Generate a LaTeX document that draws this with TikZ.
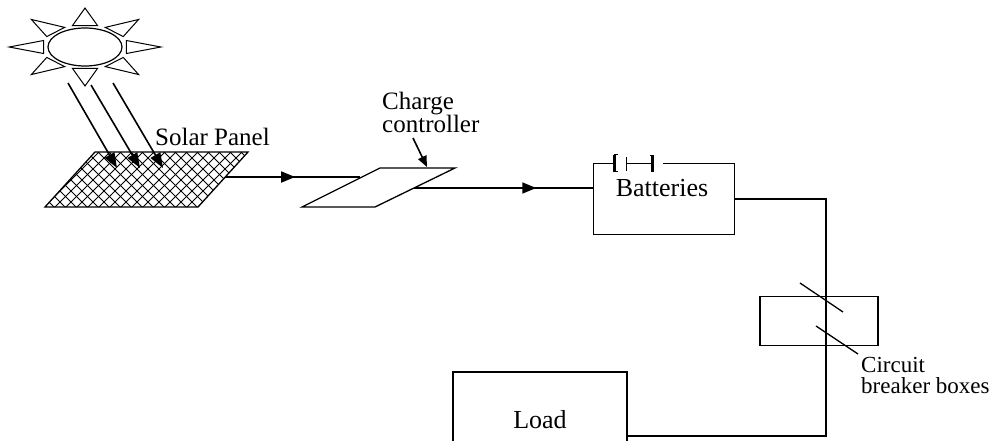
\documentclass[tikz,border=0pt]{standalone}
\usepackage{fontspec}
\setmainfont{Liberation Serif}
\usetikzlibrary{arrows.meta}
\usetikzlibrary{calc}
\usetikzlibrary{positioning}
\usetikzlibrary{decorations.markings}

\begin{document}
\begin{tikzpicture}[
    x=1pt, y=-1pt,
    % styles
    wire/.style={line width=1.3pt, black},
    ray/.style={line width=1.6pt, -{Triangle[length=15pt, width=11pt]}},
    pointer/.style={line width=1.6pt, -{Triangle[length=11pt, width=9pt]}},
    flowarrow/.style={line width=1.6pt, postaction={decorate},
      decoration={markings,
        mark=at position #1 with {\arrow{Triangle[length=14pt, width=11pt]}}}},
    tag/.style={font=\fontsize{25}{23}\selectfont, inner sep=0pt, align=left},
    title/.style={font=\fontsize{26}{28}\selectfont, inner sep=0pt},
    plate/.style={line width=2.8pt}]

    \useasboundingbox (0,0) rectangle (992,440);
    \clip (0,0) rectangle (992,440);

    % sun
    \coordinate (sun) at (85,47);
    \begin{scope}[shift={(sun)}, xscale=37, yscale=19]
      \foreach \a in {0,45,...,315}
        \draw[line width=1pt, fill=white]
        ({\a-17}:1.17) -- (\a:2.05) -- ({\a+17}:1.17) -- cycle;
      \draw[line width=1.2pt] (0,0) circle (1);
    \end{scope}

    % solar panel
    \coordinate (panel sw) at (45,207);
    \coordinate (panel se) at (198,207);
    \coordinate (panel ne) at (248,152);
    \coordinate (panel nw) at (95,152);
    \begin{scope}
      \clip (panel sw) -- (panel se) -- (panel ne) -- (panel nw) -- cycle;
      \foreach \i in {34,45,...,340} {
        \draw[line width=0.8pt] (\i,140) -- ++(-80,80);
        \draw[line width=0.8pt] (\i-80,140) -- ++(80,80);
      }
    \end{scope}
    \draw[wire] (panel sw) -- (panel se) -- (panel ne) -- (panel nw) -- cycle;
    \node[tag, anchor=base west] (panel label) at (155,145) {Solar Panel};

    % sun rays
    \foreach \sx/\sy/\ex/\ey in {68/83/117/168, 91/85/140/168, 113/83/163/168}
      \draw[ray] (\sx,\sy) -- (\ex,\ey);

    % charge controller
    \coordinate (cc sw) at (302,207);
    \coordinate (cc se) at (375,207);
    \coordinate (cc ne) at (455,168);
    \coordinate (cc nw) at (380,168);
    \draw[wire] (cc sw) -- (cc se) -- (cc ne) -- (cc nw) -- cycle;
    \node[tag, anchor=north west] (cc label) at (382,92) {Charge\\controller};
    \coordinate (cc top) at (427,167);
    \draw[pointer] ($(cc label.south west)+(31,5)$) -- (cc top);

    % batteries
    \node[minimum width=140pt, minimum height=70pt, inner sep=0pt] (bat) at (664,199) {};
    \node[title] (bat label) at (662,188) {Batteries};
    \draw[wire] ($(bat.north west)+(20,0)$) -- (bat.north west)
    -- (bat.south west) -- (bat.south east) -- (bat.north east)
    -- ($(bat.north east)+(-71,0)$);
    \draw[plate] ($(bat.north west)+(21,-9)$) -- ++(0,17);
    \draw[wire] ($(bat.north west)+(20,-9)$) -- ++(4,0);
    \draw[wire] ($(bat.north west)+(20,8)$) -- ++(4,0);
    \draw[wire] ($(bat.north west)+(33,-7)$) -- ++(0,14);
    \draw[wire] ($(bat.north west)+(33,0)$) -- ++(26,0);
    \draw[plate] ($(bat.north west)+(59,-8)$) -- ++(0,16);
    \draw[wire] ($(bat.north west)+(60,-8)$) -- ++(-4,0);

    % circuit breaker
    \node[draw, line width=1.3pt, minimum width=118pt, minimum height=49pt,
      inner sep=0pt] (cb) at (819,321) {};
    \draw[wire] (800,283) -- (843,312);
    \draw[wire] (816,326) -- (858,354);
    \node[tag, font=\fontsize{23}{21}\selectfont, anchor=north west]
    (cb label) at (861,357) {Circuit\\breaker boxes};

    % load
    \node[draw, line width=1.3pt, minimum width=174pt, minimum height=116pt,
      inner sep=0pt] (load) at (540,430) {};
    \node[title] (load label) at (540,420) {Load};

    % connections
    \coordinate (panel out) at (225,177);
    \coordinate (cc in) at (360,177);
    \coordinate (cc out) at (414,188);
    \coordinate (corner) at (826,436);
    \draw[flowarrow=0.52] (panel out) -- (cc in);
    \draw[flowarrow=0.68] (cc out) -- (cc out -| bat.west);
    \draw[wire] (bat.east) -| (corner) -- (corner -| load.east);

  \end{tikzpicture}
\end{document}
